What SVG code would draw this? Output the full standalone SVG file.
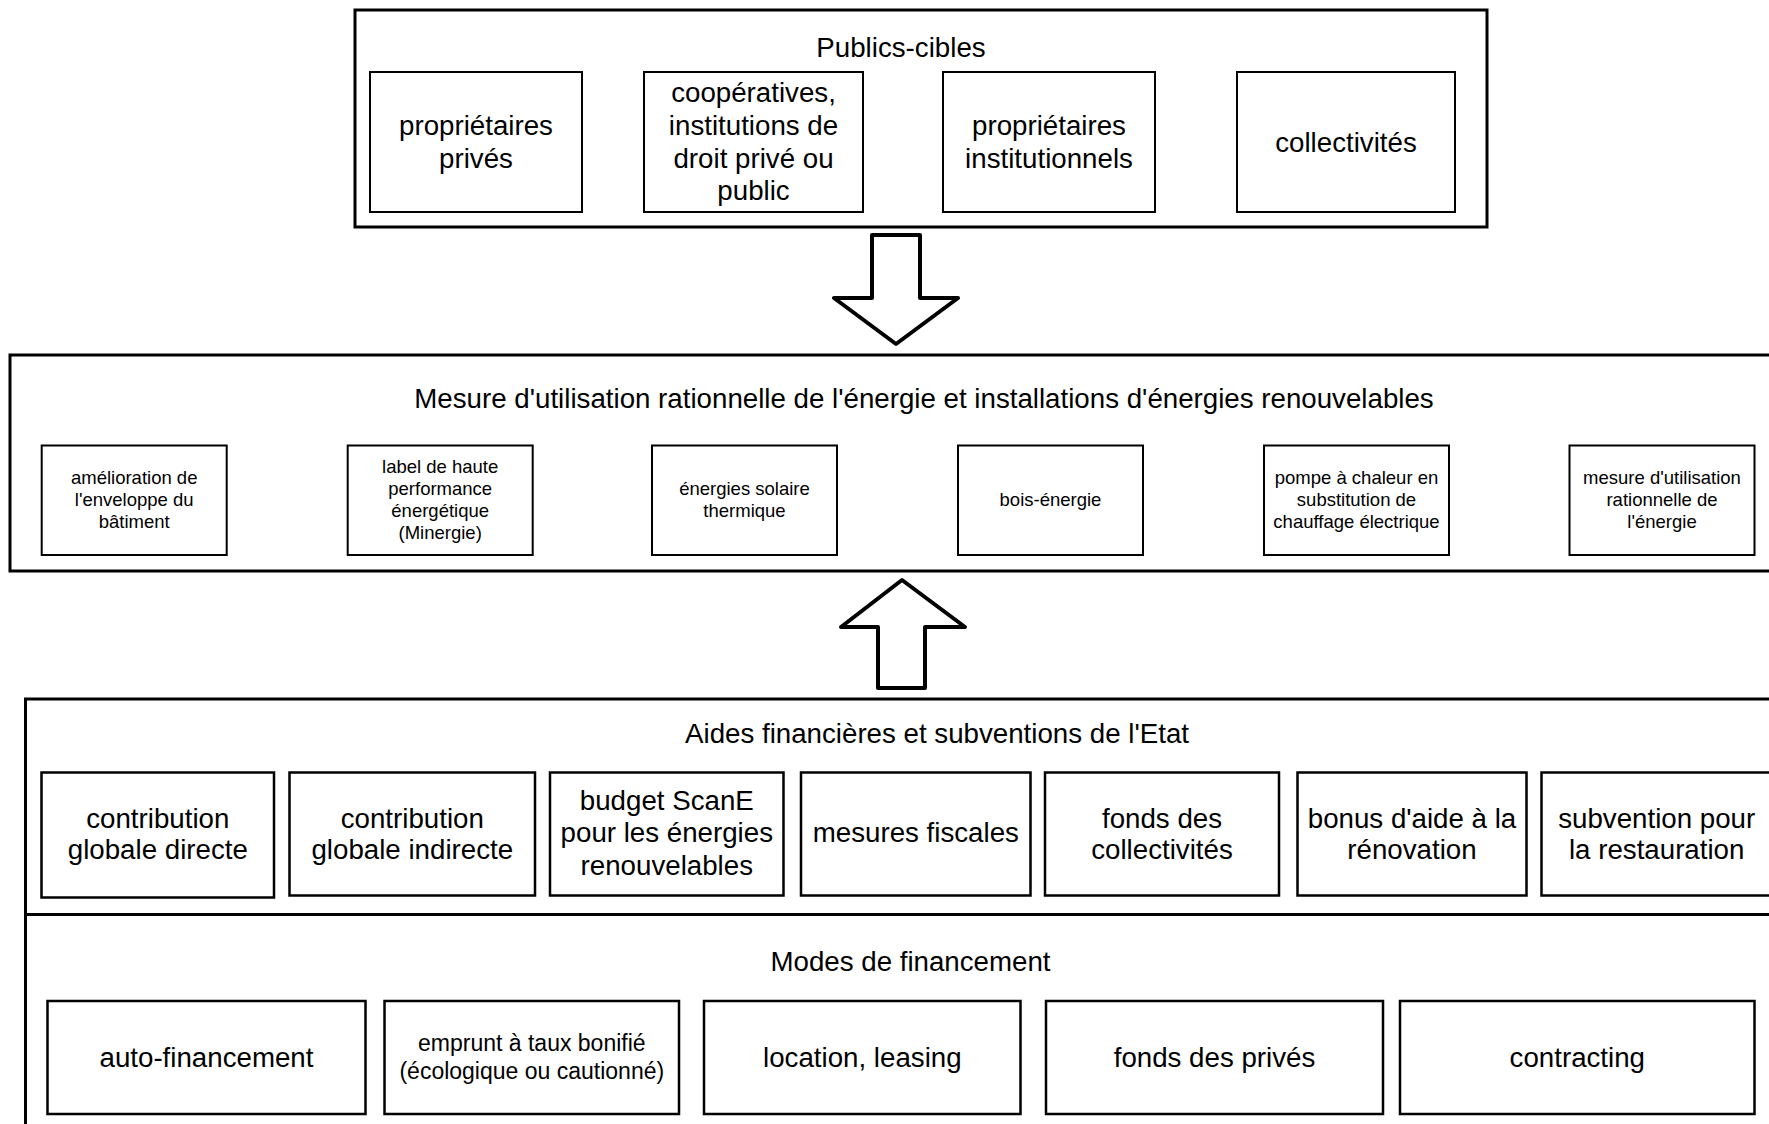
<svg xmlns="http://www.w3.org/2000/svg" width="1769" height="1124" viewBox="0 0 1769 1124">
<style>
  text { font-family: "Liberation Sans", Arial, sans-serif; fill: #000; text-anchor: middle; }
  .t { font-size: 27.7px; }
  .s { font-size: 18.5px; }
  .m { font-size: 23px; }
  .outer { fill: #fff; stroke: #000; stroke-width: 3; }
  .box { fill: #fff; stroke: #000; stroke-width: 2; }
  .box2 { fill: #fff; stroke: #000; stroke-width: 2.5; }
  .arrow { fill: #fff; stroke: #000; stroke-width: 4; stroke-linejoin: round; }
</style>
<rect x="0" y="0" width="1769" height="1124" fill="#fff"/>

<g id="publics-cibles">
  <rect class="outer" x="355" y="10" width="1132" height="217"/>
  <text class="t" x="901" y="56.5">Publics-cibles</text>
</g>
<g id="proprietaires-prives">
  <rect class="box" x="370" y="72" width="212" height="140"/>
  <text class="t" x="476" y="134.7">propriétaires</text>
  <text class="t" x="476" y="167.5">privés</text>
</g>
<g id="cooperatives">
  <rect class="box" x="644" y="72" width="219" height="140"/>
  <text class="t" x="753.5" y="102">coopératives,</text>
  <text class="t" x="753.5" y="134.7">institutions de</text>
  <text class="t" x="753.5" y="167.5">droit privé ou</text>
  <text class="t" x="753.5" y="200.2">public</text>
</g>
<g id="proprietaires-institutionnels">
  <rect class="box" x="943" y="72" width="212" height="140"/>
  <text class="t" x="1049" y="134.7">propriétaires</text>
  <text class="t" x="1049" y="167.5">institutionnels</text>
</g>
<g id="collectivites">
  <rect class="box" x="1237" y="72" width="218" height="140"/>
  <text class="t" x="1346" y="151.5">collectivités</text>
</g>

<g id="mesure">
  <rect class="outer" x="10" y="355" width="1800" height="216"/>
  <text class="t" x="924" y="407.5">Mesure d'utilisation rationnelle de l'énergie et installations d'énergies renouvelables</text>
</g>
<g id="amelioration">
  <rect class="box" x="41.7" y="445.5" width="185" height="109.5"/>
  <text class="s" x="134.2" y="484">amélioration de</text>
  <text class="s" x="134.2" y="506">l'enveloppe du</text>
  <text class="s" x="134.2" y="528">bâtiment</text>
</g>
<g id="label-minergie">
  <rect class="box" x="347.7" y="445.5" width="185" height="109.5"/>
  <text class="s" x="440.2" y="473">label de haute</text>
  <text class="s" x="440.2" y="495">performance</text>
  <text class="s" x="440.2" y="517">énergétique</text>
  <text class="s" x="440.2" y="539">(Minergie)</text>
</g>
<g id="solaire">
  <rect class="box" x="652" y="445.5" width="185" height="109.5"/>
  <text class="s" x="744.5" y="495">énergies solaire</text>
  <text class="s" x="744.5" y="517">thermique</text>
</g>
<g id="bois-energie">
  <rect class="box" x="958" y="445.5" width="185" height="109.5"/>
  <text class="s" x="1050.5" y="506">bois-énergie</text>
</g>
<g id="pompe-chaleur">
  <rect class="box" x="1264" y="445.5" width="185" height="109.5"/>
  <text class="s" x="1356.5" y="484">pompe à chaleur en</text>
  <text class="s" x="1356.5" y="506">substitution de</text>
  <text class="s" x="1356.5" y="528">chauffage électrique</text>
</g>
<g id="mesure-ure">
  <rect class="box" x="1569.5" y="445.5" width="185" height="109.5"/>
  <text class="s" x="1662" y="484">mesure d'utilisation</text>
  <text class="s" x="1662" y="506">rationnelle de</text>
  <text class="s" x="1662" y="528">l'énergie</text>
</g>

<g id="aides-modes">
  <rect class="outer" x="25.5" y="699" width="1800" height="500"/>
  <line x1="25.5" y1="914.5" x2="1800" y2="914.5" stroke="#000" stroke-width="3"/>
  <text class="t" x="937" y="742.5">Aides financières et subventions de l'Etat</text>
  <text class="t" x="910.5" y="970.5">Modes de financement</text>
</g>
<g id="contribution-directe">
  <rect class="box2" x="41.5" y="772.5" width="232.5" height="125"/>
  <text class="t" x="157.8" y="827.7">contribution</text>
  <text class="t" x="157.8" y="859.3">globale directe</text>
</g>
<g id="contribution-indirecte">
  <rect class="box2" x="289.5" y="772.5" width="245.5" height="123"/>
  <text class="t" x="412.3" y="827.7">contribution</text>
  <text class="t" x="412.3" y="859.3">globale indirecte</text>
</g>
<g id="budget-scane">
  <rect class="box2" x="550" y="772.5" width="233.5" height="123"/>
  <text class="t" x="666.8" y="809.5">budget ScanE</text>
  <text class="t" x="666.8" y="842">pour les énergies</text>
  <text class="t" x="666.8" y="874.8">renouvelables</text>
</g>
<g id="mesures-fiscales">
  <rect class="box2" x="801" y="772.5" width="229.5" height="123"/>
  <text class="t" x="915.8" y="842">mesures fiscales</text>
</g>
<g id="fonds-collectivites">
  <rect class="box2" x="1045" y="772.5" width="234" height="123"/>
  <text class="t" x="1162" y="827.7">fonds des</text>
  <text class="t" x="1162" y="859.3">collectivités</text>
</g>
<g id="bonus-renovation">
  <rect class="box2" x="1297.5" y="772.5" width="229" height="123"/>
  <text class="t" x="1412" y="827.7">bonus d'aide à la</text>
  <text class="t" x="1412" y="859.3">rénovation</text>
</g>
<g id="subvention-restauration">
  <rect class="box2" x="1541.5" y="772.5" width="235" height="123"/>
  <text class="t" x="1656.7" y="827.7">subvention pour</text>
  <text class="t" x="1656.7" y="859.3">la restauration</text>
</g>

<g id="auto-financement">
  <rect class="box2" x="47.5" y="1001" width="318" height="113"/>
  <text class="t" x="206.5" y="1066.5">auto-financement</text>
</g>
<g id="emprunt">
  <rect class="box2" x="384.5" y="1001" width="294.5" height="113"/>
  <text class="m" x="531.8" y="1050.5">emprunt à taux bonifié</text>
  <text class="m" x="531.8" y="1078.7">(écologique ou cautionné)</text>
</g>
<g id="location-leasing">
  <rect class="box2" x="704" y="1001" width="316.5" height="113"/>
  <text class="t" x="862.3" y="1066.5">location, leasing</text>
</g>
<g id="fonds-prives">
  <rect class="box2" x="1046" y="1001" width="337" height="113"/>
  <text class="t" x="1214.5" y="1066.5">fonds des privés</text>
</g>
<g id="contracting">
  <rect class="box2" x="1400" y="1001" width="354.5" height="113"/>
  <text class="t" x="1577.3" y="1066.5">contracting</text>
</g>

<g id="connectors">
  <polygon class="arrow" points="872,235 920,235 920,298 958,298 896,344 834,298 872,298"/>
  <polygon class="arrow" points="902,580 965,627 925,627 925,688 878,688 878,627 841,627"/>
</g>
</svg>
